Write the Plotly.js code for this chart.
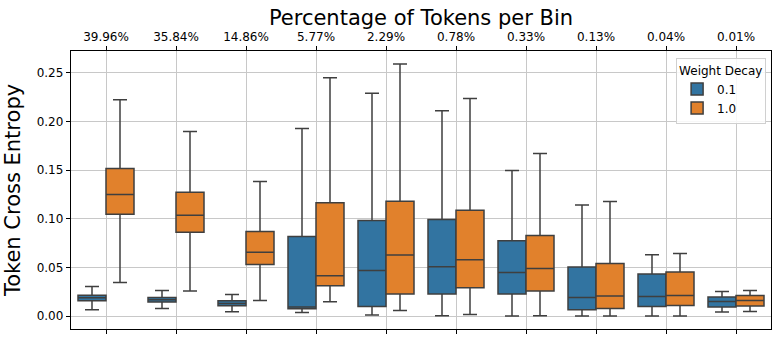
<!DOCTYPE html>
<html>
<head>
<meta charset="utf-8">
<script src="https://cdn.plot.ly/plotly-3.0.1.min.js"></script>
<style>
  html, body { margin: 0; padding: 0; background: #fff; }
  #chart { width: 781px; height: 343px; }
</style>
</head>
<body>
<div id="chart"></div>
<script>
// bins, labelled by share of tokens
const bins = ['39.96%', '35.84%', '14.86%', '5.77%', '2.29%', '0.78%', '0.33%', '0.13%', '0.04%', '0.01%'];

// weight decay 0.1
const wd01Lower  = [0.0065, 0.0078, 0.0044, 0.0037, 0.0010, 0.0003, 0.0000, 0.0000, 0.0000, 0.0041];
const wd01Q1     = [0.0157, 0.0144, 0.0106, 0.0075, 0.0099, 0.0226, 0.0226, 0.0065, 0.0099, 0.0092];
const wd01Median = [0.0188, 0.0167, 0.0129, 0.0092, 0.0468, 0.0506, 0.0448, 0.0191, 0.0201, 0.0150];
const wd01Q3     = [0.0215, 0.0191, 0.0157, 0.0817, 0.0981, 0.0992, 0.0773, 0.0503, 0.0431, 0.0195];
const wd01Upper  = [0.0304, 0.0263, 0.0222, 0.1926, 0.2289, 0.2110, 0.1495, 0.1142, 0.0629, 0.0253];

// weight decay 1.0
const wd10Lower  = [0.0345, 0.0257, 0.0160, 0.0147, 0.0058, 0.0017, 0.0003, 0.0000, 0.0000, 0.0047];
const wd10Q1     = [0.1047, 0.0862, 0.0530, 0.0311, 0.0226, 0.0290, 0.0257, 0.0078, 0.0109, 0.0103];
const wd10Median = [0.1248, 0.1036, 0.0656, 0.0414, 0.0626, 0.0578, 0.0489, 0.0205, 0.0211, 0.0160];
const wd10Q3     = [0.1515, 0.1272, 0.0869, 0.1163, 0.1180, 0.1088, 0.0828, 0.0540, 0.0452, 0.0211];
const wd10Upper  = [0.2223, 0.1895, 0.1382, 0.2449, 0.2589, 0.2234, 0.1669, 0.1176, 0.0643, 0.0263];

const font = 'DejaVu Sans, sans-serif';
const edge = '#3f3f3f';

function boxTrace(name, color, lo, q1, med, q3, hi) {
  return {
    type: 'box',
    name: name,
    x: bins,
    lowerfence: lo,
    q1: q1,
    median: med,
    q3: q3,
    upperfence: hi,
    boxpoints: false,
    whiskerwidth: 0.5,
    fillcolor: color,
    line: { color: edge, width: 1.5 }
  };
}

const traces = [
  boxTrace('0.1', '#3274a1', wd01Lower, wd01Q1, wd01Median, wd01Q3, wd01Upper),
  boxTrace('1.0', '#e1812c', wd10Lower, wd10Q1, wd10Median, wd10Q3, wd10Upper)
];

const layout = {
  width: 781,
  height: 343,
  margin: { l: 71, r: 10, t: 51, b: 14 },
  paper_bgcolor: '#fff',
  plot_bgcolor: '#fff',
  font: { family: font, size: 12, color: '#000' },
  boxmode: 'group',
  boxgap: 0.2,
  boxgroupgap: 0,
  title: {
    text: 'Percentage of Tokens per Bin',
    font: { family: font, size: 21, color: '#000' },
    x: 0.5, xref: 'paper', xanchor: 'center',
    y: 0.95, yref: 'container', yanchor: 'middle'
  },
  xaxis: {
    type: 'category',
    side: 'top',
    range: [-0.5, 9.5],
    showline: true, linecolor: '#000', linewidth: 1.2,
    mirror: 'ticks',
    ticks: 'outside', ticklen: 4, tickcolor: '#000',
    showgrid: true, gridcolor: '#c8c8c8', gridwidth: 1,
    tickfont: { family: font, size: 12, color: '#000' },
    zeroline: false
  },
  yaxis: {
    range: [-0.0133, 0.2723],
    tickvals: [0, 0.05, 0.10, 0.15, 0.20, 0.25],
    tickformat: '.2f',
    showline: true, linecolor: '#000', linewidth: 1.2,
    mirror: true,
    ticks: 'outside', ticklen: 4, tickcolor: '#000',
    showgrid: true, gridcolor: '#c8c8c8', gridwidth: 1,
    zeroline: false,
    tickfont: { family: font, size: 12, color: '#000' },
    title: { text: 'Token Cross Entropy', font: { family: font, size: 21, color: '#000' }, standoff: 10 }
  },
  legend: {
    x: 0.993, xanchor: 'right',
    y: 0.975, yanchor: 'top',
    bgcolor: 'rgba(255,255,255,0.85)',
    bordercolor: '#d0d0d0', borderwidth: 1,
    title: { text: 'Weight Decay', font: { family: font, size: 12, color: '#000' }, side: 'top' },
    font: { family: font, size: 12, color: '#000' },
    itemwidth: 30
  },
  showlegend: true
};

Plotly.newPlot('chart', traces, layout, { displayModeBar: false, staticPlot: true });
</script>
</body>
</html>
